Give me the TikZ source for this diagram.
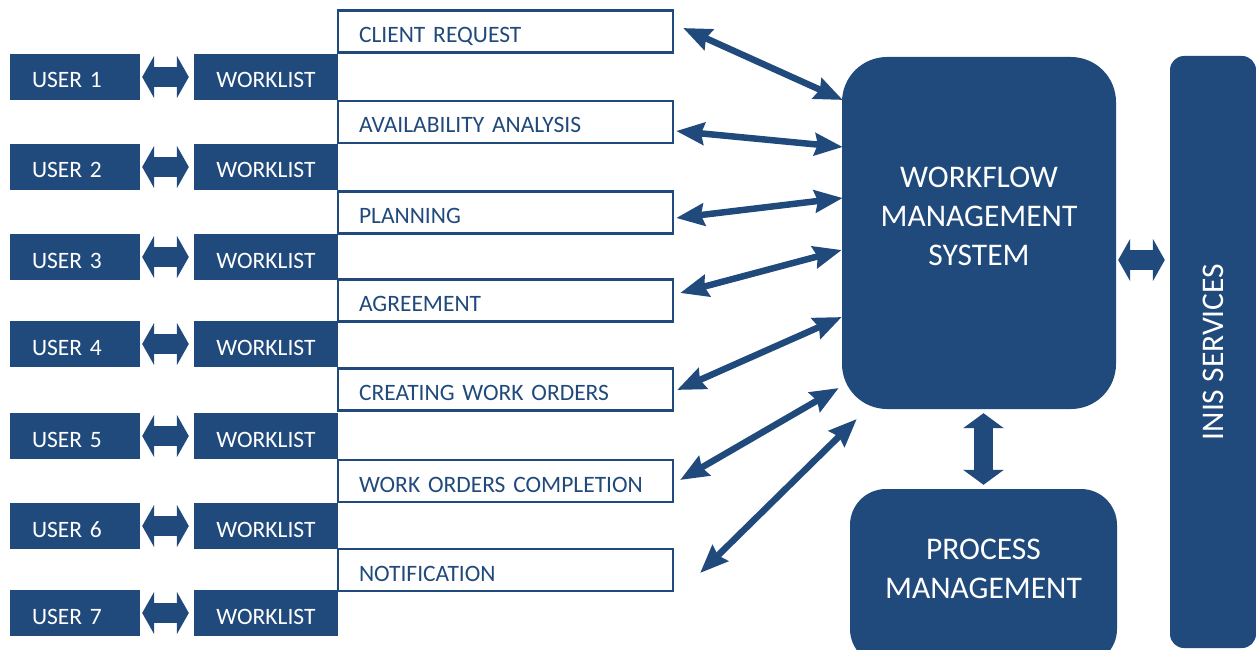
\documentclass[tikz,border=0pt]{standalone}
\usepackage{fontspec}
\setmainfont{Carlito}
\usetikzlibrary{arrows.meta}
\definecolor{inisblue}{RGB}{33,74,124}

\begin{document}
\begin{tikzpicture}[x=1pt,y=-1pt]
  \tikzstyle{every node}=[inner sep=0pt, font=\fontsize{23.5}{28}\selectfont]
  \tikzstyle{userbox}=[rectangle, fill=inisblue, text=white, minimum height=46pt, text width=86pt, inner xsep=22pt, align=left, text height=22pt, text depth=0pt]
  \tikzstyle{wlbox}=[rectangle, fill=inisblue, text=white, minimum width=144pt, minimum height=46pt, text height=22pt, text depth=0pt]
  \tikzstyle{taskbox}=[rectangle, draw=inisblue, line width=2.2pt, fill=white, text=inisblue, minimum height=42pt, text width=293pt, inner xsep=21pt, align=left, text height=22pt, text depth=0pt]
  \tikzstyle{bigbox}=[rectangle, fill=inisblue]
  \tikzstyle{bigtext}=[text=white, align=center, font=\fontsize{31.5}{39}\selectfont]
  \tikzstyle{fatarrow}=[draw=inisblue, line width=20pt, {Triangle[length=12pt,width=42pt]}-{Triangle[length=12pt,width=42pt]}]
  \tikzstyle{link}=[draw=inisblue, line width=6.5pt, {Stealth[length=28pt,width=22pt,inset=3pt]}-{Stealth[length=28pt,width=22pt,inset=3pt]}]
  \useasboundingbox (0,0) rectangle (1256,650);

  % tasks
  \node[taskbox] (req) at (505.5,31.5) {CLIENT REQUEST};
  \node[taskbox] (avail) at (505.5,122) {AVAILABILITY ANALYSIS};
  \node[taskbox] (plan) at (505.5,212.5) {PLANNING};
  \node[taskbox] (agree) at (505.5,300.5) {AGREEMENT};
  \node[taskbox] (create) at (505.5,389.5) {CREATING WORK ORDERS};
  \node[taskbox] (complete) at (505.5,481) {WORK ORDERS COMPLETION};
  \node[taskbox] (notify) at (505.5,570) {NOTIFICATION};

  % users and their worklists
  \foreach \i/\c in {1/77,2/167,3/257,4/344,5/436,6/526,7/613}{
    \node[userbox] (user\i) at (75,\c) {USER \i};
    \node[wlbox] (wl\i) at (266,\c) {WORKLIST};
    \draw[fatarrow, shorten <=2pt, shorten >=5pt] (user\i) -- (wl\i);
  }

  % systems
  \node[bigbox, rounded corners=45pt, minimum width=274pt, minimum height=352pt] (wms) at (979,233) {};
  \node[bigtext] (wmslabel) at (979,216) {WORKFLOW\\MANAGEMENT\\SYSTEM};
  \node[bigbox, rounded corners=36pt, minimum width=267pt, minimum height=176pt] (pm) at (983.5,577) {};
  \node[bigtext] (pmlabel) at (983.5,568.5) {PROCESS\\MANAGEMENT};
  \node[bigbox, rounded corners=14pt, minimum width=86pt, minimum height=592pt] (inis) at (1213,352) {};
  \node[bigtext, rotate=90] (inislabel) at (inis.center) {INIS SERVICES};

  \coordinate (sysport) at ([yshift=-27pt]wms.east);
  \draw[fatarrow, shorten <=2pt, shorten >=5pt] (sysport) -- (sysport -| inis.west);
  \draw[fatarrow, line width=19pt, {Triangle[length=15pt,width=40pt]}-{Triangle[length=15pt,width=40pt]}, shorten <=4pt, shorten >=4pt] (pm.north |- wms.south) -- (pm.north);

  % task <-> workflow system
  \draw[link] ([shift={(9,-3.5)}]req.east) -- ([shift={(1,-133)}]wms.west);
  \draw[link] ([shift={(2,9)}]avail.east) -- ([shift={(1,-86)}]wms.west);
  \draw[link] ([shift={(2,5.5)}]plan.east) -- ([shift={(1,-35)}]wms.west);
  \draw[link] ([shift={(6,-7.5)}]agree.east) -- ([shift={(0,17)}]wms.west);
  \draw[link] ([shift={(3,0.5)}]create.east) -- ([shift={(0,84)}]wms.west);
  \draw[link] ([shift={(6,-1)}]complete.east) -- ([shift={(-3,155)}]wms.west);
  \draw[link] ([shift={(26,3)}]notify.east) -- ([shift={(15,186)}]wms.west);
\end{tikzpicture}
\end{document}
